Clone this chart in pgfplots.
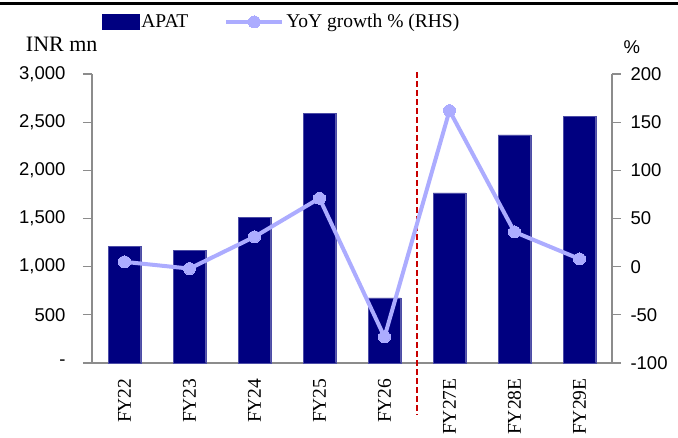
\documentclass[border=0pt]{standalone}
\usepackage{fontspec}
\setmainfont{Liberation Serif}
\setsansfont{Liberation Sans}
\usepackage{pgfplots}
\pgfplotsset{compat=1.18}
\definecolor{barblue}{RGB}{0,0,128}
\definecolor{lav}{RGB}{172,172,255}
\definecolor{axgray}{RGB}{140,140,140}
\definecolor{dred}{RGB}{200,0,0}
\pgfplotsset{myline legend/.style={legend image code/.code={\draw[mark repeat=2,mark phase=2,##1] plot coordinates {(0pt,0pt)(28pt,0pt)(56pt,0pt)};}}}
\pgfplotsset{mybar legend/.style={legend image code/.code={\fill[barblue] (0pt,-7.5pt) rectangle (37pt,7.5pt);}}}
\begin{document}
\begin{tikzpicture}
\path[use as bounding box] (-92pt,-74pt) rectangle (586pt,363pt);
\draw[line width=3pt] (-92pt,359pt) -- (586pt,359pt);
\begin{axis}[
  scale only axis, width=520pt, height=289pt,
  at={(0pt,0pt)}, anchor=south west,
  xmin=-0.5, xmax=7.5, ymin=0, ymax=3000,
  axis x line*=bottom, axis y line*=left,
  axis line style={axgray, line width=1.3pt},
  xtick=data,
  xticklabels={FY22,FY23,FY24,FY25,FY26,FY27E,FY28E,FY29E},
  x tick label style={rotate=90, anchor=east, font=\rmfamily\fontsize{19.5}{19.5}\selectfont, xshift=-3pt},
  major x tick style={draw=none},
  ytick={0,500,1000,1500,2000,2500,3000},
  yticklabels={-,500,{1,000},{1,500},{2,000},{2,500},{3,000}},
  y tick label style={font=\sffamily\fontsize{18.5}{18.5}\selectfont},
  yticklabel style={xshift=-14pt},
  ytick style={axgray, line width=1.3pt},
  tick align=outside, major tick length=9pt,
  /pgf/number format/assume math mode=true,
  ybar, bar width=0.5,
  clip=false,
]
\addplot[fill=barblue, draw=barblue!70!white, line width=0.4pt] coordinates {
(0,1210) (1,1173) (2,1515) (3,2595) (4,675) (5,1765) (6,2367) (7,2557)};
\draw[dred, line width=2.5pt, dash pattern=on 6pt off 3pt] (axis cs:4.5,3020) -- (axis cs:4.5,-540);
\end{axis}
\begin{axis}[
  scale only axis, width=520pt, height=289pt,
  at={(0pt,0pt)}, anchor=south west,
  xmin=-0.5, xmax=7.5, ymin=-100, ymax=200,
  axis y line*=right, axis x line=none,
  axis line style={axgray, line width=1.3pt},
  ytick={-100,-50,0,50,100,150,200},
  y tick label style={font=\sffamily\fontsize{18.5}{18.5}\selectfont},
  yticklabel style={xshift=6pt},
  ytick style={axgray, line width=1.3pt},
  tick align=outside, major tick length=9pt,
  /pgf/number format/assume math mode=true,
  clip=false,
  legend columns=2,
  legend style={draw=none, fill=none, at={(0.013,1.18)}, anchor=west,
    font=\rmfamily\fontsize{19.5}{19.5}\selectfont,
    /tikz/every even column/.append style={column sep=34pt}},
]
\addlegendimage{mybar legend}
\addlegendentry{APAT}
\addplot[lav, line width=4pt, mark=*, mark size=6pt, mark options={fill=lav, draw=lav, line width=0pt}, myline legend]
  coordinates {(0,5) (1,-2) (2,31) (3,71) (4,-73) (5,162) (6,36) (7,8)};
\addlegendentry{YoY growth \% (RHS)}
\end{axis}
\node[anchor=east, font=\rmfamily\fontsize{22}{22}\selectfont] at (9pt,319pt) {INR mn};
\node[anchor=west, font=\sffamily\fontsize{18.5}{18.5}\selectfont] at (528pt,316pt) {\%};
\end{tikzpicture}
\end{document}
